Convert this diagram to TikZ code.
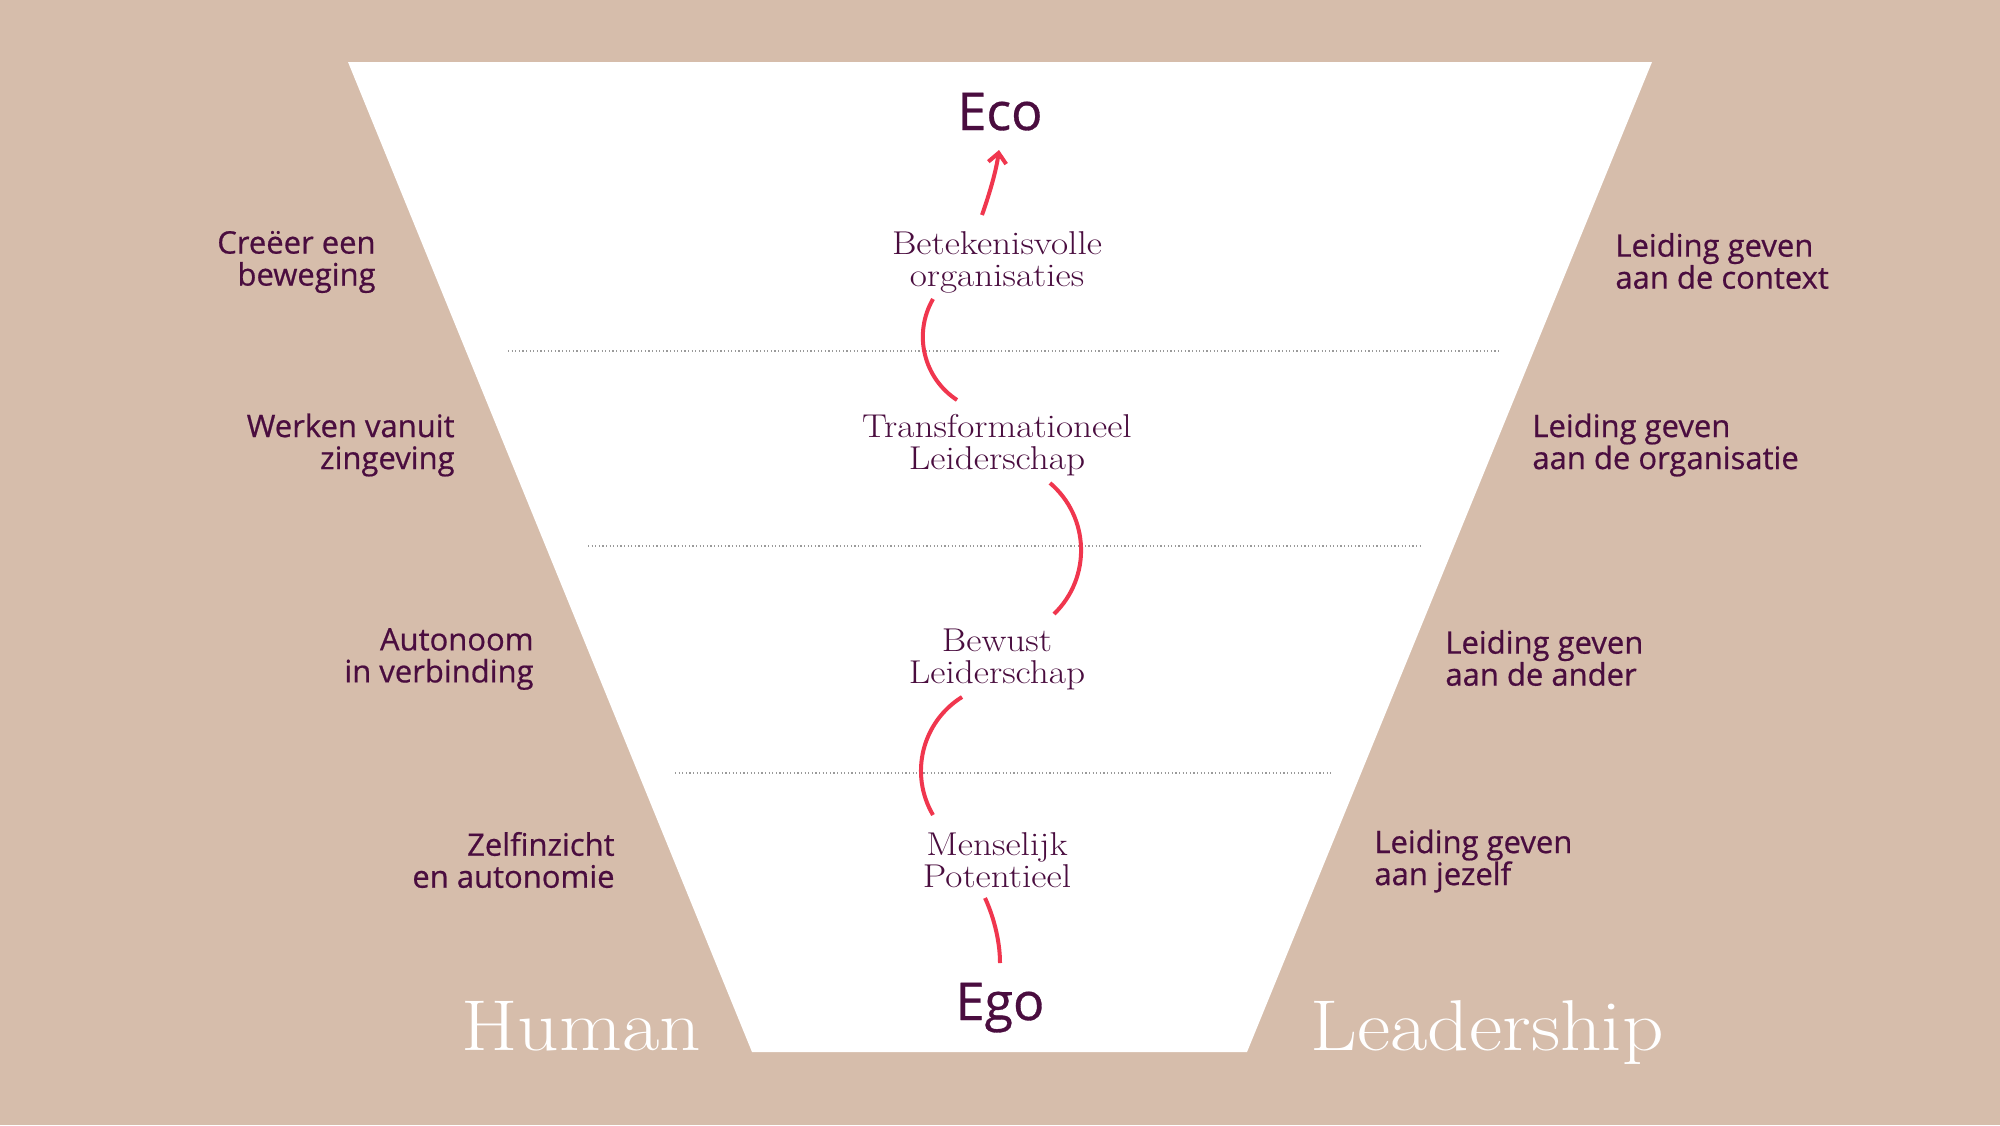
\documentclass[tikz,border=0pt]{standalone}
\usepackage{fontspec}
\newfontfamily\sidefont{Open Sans}[FakeBold=0.6]
\newfontfamily\serifwide{Latin Modern Roman}[FakeStretch=1.13]
\usetikzlibrary{arrows.meta}
\definecolor{bgtan}{HTML}{D6BDAB}
\definecolor{ink}{HTML}{4A0D3F}
\definecolor{redline}{HTML}{F0364E}
\definecolor{dotgray}{HTML}{9A9A9A}
\tikzset{
  sidelabel/.style={font=\sidefont\fontsize{15.5}{16}\selectfont, text=ink, inner sep=0pt},
  leftlabel/.style={sidelabel, anchor=east, align=right},
  rightlabel/.style={sidelabel, anchor=west, align=left},
  midlabel/.style={font=\serifwide\fontsize{16.5}{16}\selectfont, text=ink, inner sep=0pt, align=center},
  endlabel/.style={font=\sidefont\fontsize{26}{28}\selectfont, text=ink, inner sep=0pt, anchor=base},
  biglabel/.style={font=\serifwide\fontsize{36}{40}\selectfont, text=white, inner sep=0pt, anchor=base west},
  flow/.style={draw=redline, line width=2pt},
  sepline/.style={draw=dotgray, line width=0.6pt, dash pattern=on 0.6pt off 1.2pt},
}
\begin{document}
\begin{tikzpicture}[x=0.5pt, y=-0.5pt]
  \fill[bgtan] (0,0) rectangle (2000,1125);
  \useasboundingbox (0,0) rectangle (2000,1125);
  \fill[white] (348,62) -- (1652,62) -- (1247,1052) -- (752,1052) -- cycle;

  % separators
  \draw[sepline] (508,351) -- (1500,351);
  \draw[sepline] (588,546) -- (1420,546);
  \draw[sepline] (675,773) -- (1333,773);

  % centre labels
  \node[endlabel] (eco) at (1000,130) {Eco};
  \node[midlabel] (bet) at (997,262) {Betekenisvolle\\organisaties};
  \node[midlabel] (tra) at (997,445) {Transformationeel\\Leiderschap};
  \node[midlabel] (bew) at (997,659) {Bewust\\Leiderschap};
  \node[midlabel] (men) at (997,860) {Menselijk\\Potentieel};
  \node[endlabel] (ego) at (1000,1020) {Ego};

  % left labels
  \node[leftlabel] (l1) at (376,262) {Creëer een\\beweging};
  \node[leftlabel] (l2) at (455,445) {Werken vanuit\\zingeving};
  \node[leftlabel] (l3) at (534,659) {Autonoom\\in verbinding};
  \node[leftlabel] (l4) at (615,860) {Zelfinzicht\\en autonomie};

  % right labels
  \node[rightlabel] (r1) at (1615,261) {Leiding geven\\aan de context};
  \node[rightlabel] (r2) at (1532,445) {Leiding geven\\aan de organisatie};
  \node[rightlabel] (r3) at (1445,658) {Leiding geven\\aan de ander};
  \node[rightlabel] (r4) at (1374,861) {Leiding geven\\aan jezelf};

  % big words
  \node[biglabel] (human) at (461,1050) {Human};
  \node[biglabel] (lead) at (1310,1050) {Leadership};

  % connector end points
  \coordinate (egoT) at (1000,963);
  \coordinate (menB) at (985,898);
  \coordinate (menT) at (933,815);
  \coordinate (bewB) at (962,697);
  \coordinate (bewT) at (1054,614);
  \coordinate (traB) at (1050,483);
  \coordinate (traT) at (957,400);
  \coordinate (betB) at (933,299);
  \coordinate (betT) at (982,215);
  \coordinate (ecoB) at (999,150);

  \draw[flow] (egoT) .. controls (1000,940) and (993,915) .. (menB);
  \draw[flow] (menT) .. controls (909,774) and (922,722) .. (bewB);
  \draw[flow] (bewT) .. controls (1091.6,577.7) and (1089.8,516.9) .. (traB);
  \draw[flow] (traT) .. controls (923.4,378) and (912.9,333.8) .. (betB);
  \draw[flow, -{Straight Barb[length=5pt, width=9pt]}] (betT) .. controls (989,195) and (996,172) .. (ecoB);
\end{tikzpicture}
\end{document}
